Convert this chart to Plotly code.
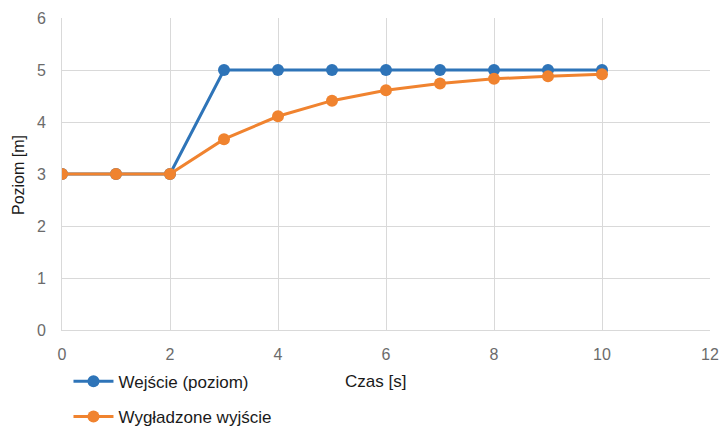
import plotly.graph_objects as go

czas = [0, 1, 2, 3, 4, 5, 6, 7, 8, 9, 10]
wejscie = [3, 3, 3, 5, 5, 5, 5, 5, 5, 5, 5]
wygladzone = [3, 3, 3, 3.67, 4.11, 4.41, 4.61, 4.74, 4.83, 4.88, 4.92]

fig = go.Figure()
fig.add_trace(go.Scatter(x=czas, y=wejscie, mode="lines+markers", name="Wejście (poziom)",
                         legendgroup="a",
                         line=dict(color="#2E74B8", width=3),
                         marker=dict(size=12, color="#2E74B8")))
fig.add_trace(go.Scatter(x=czas, y=wygladzone, mode="lines+markers", name="Wygładzone wyjście",
                         legendgroup="b",
                         line=dict(color="#F0832F", width=3),
                         marker=dict(size=12, color="#F0832F")))

font_fam = "Liberation Sans, Arial, sans-serif"
fig.update_layout(
    width=720, height=427,
    margin=dict(l=62, r=10, t=18, b=97, autoexpand=False),
    paper_bgcolor="white", plot_bgcolor="white",
    font=dict(family=font_fam, size=14, color="#595959"),
    showlegend=True,
    legend=dict(x=0.01, xanchor="left", yref="container", y=0.148, yanchor="top",
                orientation="v",
                font=dict(size=17, color="#1a1a1a"), tracegroupgap=10,
                itemwidth=40, bgcolor="rgba(0,0,0,0)"),
    xaxis=dict(range=[0, 12], dtick=2, showgrid=True, gridcolor="#D9D9D9", gridwidth=1,
               zeroline=False, showline=True, linecolor="#D9D9D9", ticks="",
               ticklabelstandoff=10,
               tickfont=dict(size=16, color="#6b6b6b")),
    yaxis=dict(range=[0, 6], dtick=1, showgrid=True, gridcolor="#D9D9D9", gridwidth=1,
               zeroline=False, showline=True, linecolor="#D9D9D9", ticks="",
               ticklabelstandoff=12,
               tickfont=dict(size=16, color="#6b6b6b")),
    annotations=[
        dict(text="Czas [s]", xref="paper", yref="paper", x=(375 - 62) / 648, y=(330 - 381) / 312,
             xanchor="center", yanchor="middle", showarrow=False,
             font=dict(size=17, color="#1a1a1a")),
        dict(text="Poziom [m]", xref="paper", yref="paper", x=(18 - 62) / 648, y=(330 - 175) / 312,
             xanchor="center", yanchor="middle", showarrow=False, textangle=-90,
             font=dict(size=16, color="#1a1a1a")),
    ],
)
fig.write_html("out.html")
